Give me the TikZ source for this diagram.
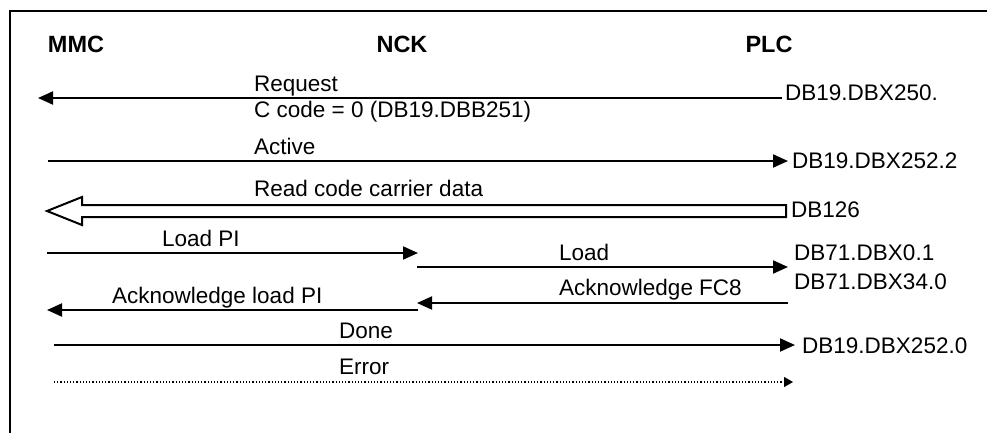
\documentclass[tikz,border=0pt]{standalone}
\usepackage{fontspec}
\setmainfont{Liberation Sans}
\usetikzlibrary{arrows.meta}
\begin{document}
\begin{tikzpicture}[x=1pt,y=-1pt,
  lbl/.style={anchor=base west,inner sep=0pt,font=\fontsize{22.5}{27}\selectfont},
  hdr/.style={anchor=base,inner sep=0pt,font=\fontsize{23.5}{27}\selectfont\bfseries},
  msg/.style={line width=2pt,-{Triangle[length=15pt,width=13pt]}},
  errmsg/.style={line width=1.2pt,dotted,-{Triangle[length=9pt,width=10pt]}},
  frame/.style={line width=2.2pt}]
\useasboundingbox (0,0) rectangle (987,432);
% frame (clipped at right and bottom)
\draw[frame] (10,440) -- (10,11) -- (995,11);
% headers
\node[hdr] (mmc) at (76,52) {MMC};
\node[hdr] (nck) at (402,52) {NCK};
\node[hdr] (plc) at (769,52) {PLC};
% endpoints
\coordinate (r1a) at (782,98);  \coordinate (r1b) at (38,98);
\coordinate (r2a) at (48,161);  \coordinate (r2b) at (788,161);
\coordinate (r4a) at (47,253);  \coordinate (r4b) at (418,253);
\coordinate (r5a) at (417,267); \coordinate (r5b) at (788,267);
\coordinate (r6a) at (788,303); \coordinate (r6b) at (417,303);
\coordinate (r7a) at (418,310); \coordinate (r7b) at (47,310);
\coordinate (r8a) at (54,345);  \coordinate (r8b) at (795,345);
\coordinate (r9a) at (54,382);  \coordinate (r9b) at (793,382);
% labels
\node[lbl] (req) at (254,91) {Request};
\node[lbl] (ccode) at (254,117) {C code = 0 (DB19.DBB251)};
\node[lbl] (db250) at (785,100) {DB19.DBX250.};
\node[lbl] (act) at (254,154) {Active};
\node[lbl] (db2522) at (792,168) {DB19.DBX252.2};
\node[lbl] (rcc) at (254,196) {Read code carrier data};
\node[lbl] (db126) at (791,217) {DB126};
\node[lbl] (lpi) at (162,246) {Load PI};
\node[lbl] (load) at (559,260) {Load};
\node[lbl] (db71a) at (794,260) {DB71.DBX0.1};
\node[lbl] (db71b) at (794,289) {DB71.DBX34.0};
\node[lbl] (ackfc) at (559,295) {Acknowledge FC8};
\node[lbl] (acklpi) at (112,303) {Acknowledge load PI};
\node[lbl] (done) at (339,338) {Done};
\node[lbl] (db2520) at (802,353) {DB19.DBX252.0};
\node[lbl] (err) at (339,374) {Error};
% messages
\draw[msg] (r1a) -- (r1b);
\draw[msg] (r2a) -- (r2b);
\draw[line width=2pt,line join=miter] (786,205) -- (82,205) -- (82,197) -- (47,211) -- (82,225) -- (82,217) -- (786,217) -- cycle;
\draw[msg] (r4a) -- (r4b);
\draw[msg] (r5a) -- (r5b);
\draw[msg] (r6a) -- (r6b);
\draw[msg] (r7a) -- (r7b);
\draw[msg] (r8a) -- (r8b);
\draw[errmsg] (r9a) -- (r9b);
\end{tikzpicture}
\end{document}
